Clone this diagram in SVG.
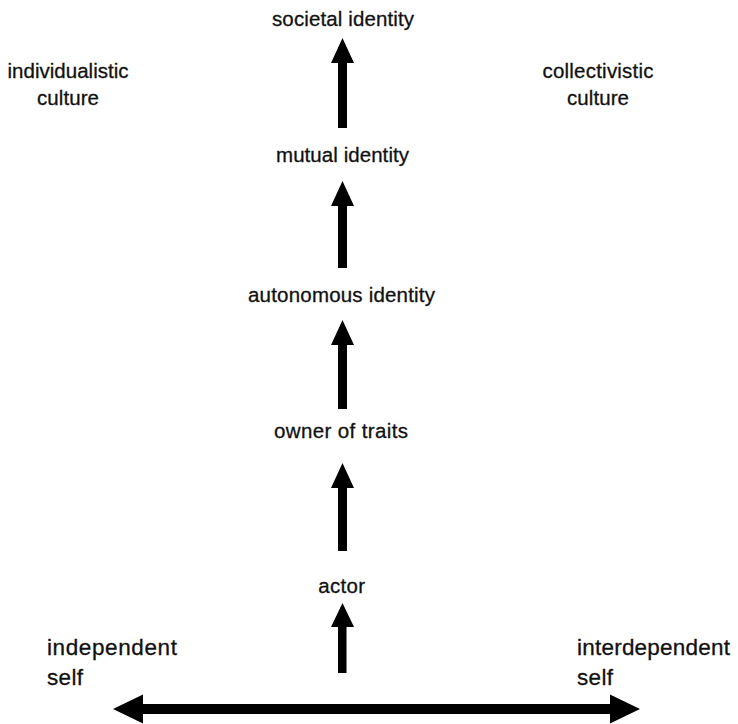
<svg xmlns="http://www.w3.org/2000/svg" width="738" height="724" viewBox="0 0 738 724">
<style>
  .lbl { font-family: "Liberation Sans", Arial, Helvetica, sans-serif; font-size: 20.5px; fill: #111; stroke: #111; stroke-width: 0.3px; }
  .big { font-size: 22.5px; }
  .mid { text-anchor: middle; }
  .arr { fill: #000; stroke: none; }
</style>
<rect width="738" height="724" fill="#fff"/>
<g id="individualistic-culture">
  <text class="lbl mid" x="68" y="78" textLength="121" lengthAdjust="spacing">individualistic</text>
  <text class="lbl mid" x="68" y="105" textLength="62" lengthAdjust="spacing">culture</text>
</g>
<g id="collectivistic-culture">
  <text class="lbl mid" x="598" y="78" textLength="111" lengthAdjust="spacing">collectivistic</text>
  <text class="lbl mid" x="598" y="105" textLength="62" lengthAdjust="spacing">culture</text>
</g>
<g id="societal-identity">
  <text class="lbl mid" x="343" y="26" textLength="142" lengthAdjust="spacing">societal identity</text>
</g>
<g id="mutual-identity">
  <text class="lbl mid" x="342.5" y="162" textLength="133" lengthAdjust="spacing">mutual identity</text>
</g>
<g id="autonomous-identity">
  <text class="lbl mid" x="341.5" y="302" textLength="187" lengthAdjust="spacing">autonomous identity</text>
</g>
<g id="owner-of-traits">
  <text class="lbl mid" x="341" y="438" textLength="134" lengthAdjust="spacing">owner of traits</text>
</g>
<g id="actor">
  <text class="lbl mid" x="341.7" y="593" textLength="47" lengthAdjust="spacing">actor</text>
</g>
<g id="independent-self">
  <text class="lbl big" x="47" y="655" textLength="130" lengthAdjust="spacing">independent</text>
  <text class="lbl big" x="47" y="685" textLength="36" lengthAdjust="spacing">self</text>
</g>
<g id="interdependent-self">
  <text class="lbl big" x="577" y="655" textLength="153" lengthAdjust="spacing">interdependent</text>
  <text class="lbl big" x="577" y="685" textLength="36" lengthAdjust="spacing">self</text>
</g>
<g id="connectors">
  <polygon class="arr" points="342.5,38 354,63 347,63 347,128 338,128 338,63 331,63"/>
  <polygon class="arr" points="342.5,181 354,206 347,206 347,268 338,268 338,206 331,206"/>
  <polygon class="arr" points="342.5,320 354,345 347,345 347,409 338,409 338,345 331,345"/>
  <polygon class="arr" points="342.5,463 354,488 347,488 347,551 338,551 338,488 331,488"/>
  <polygon class="arr" points="342.5,603 354,627 346.5,627 346.5,673 338,673 338,627 331,627"/>
  <polygon class="arr" points="113,709 143,694.5 143,704 610,704 610,694.5 640,709 610,723.5 610,714 143,714 143,723.5"/>
</g>
</svg>
